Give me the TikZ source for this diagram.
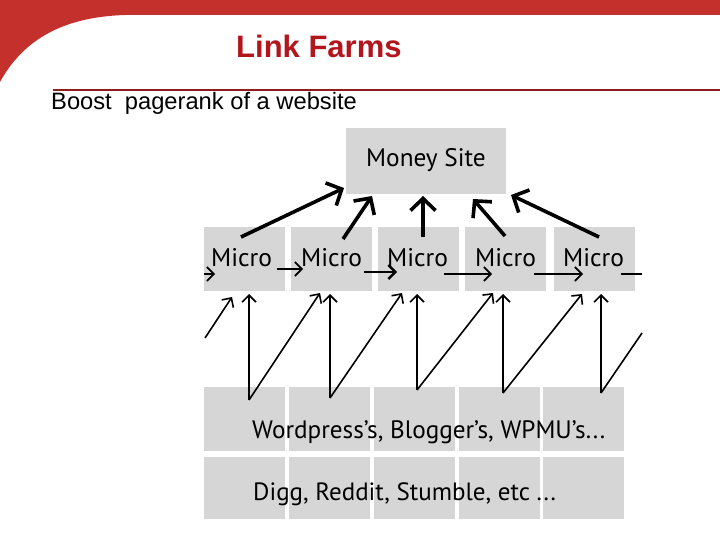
\documentclass[tikz,border=0pt]{standalone}
\usepackage{fontspec}
\setmainfont{Liberation Sans}
\newfontfamily\diagfont{PT Sans}
\usetikzlibrary{arrows.meta}
\definecolor{hdrred}{HTML}{C4312C}
\definecolor{titlered}{HTML}{B3151D}
\definecolor{rulered}{HTML}{8E1E1E}
\definecolor{boxgrey}{HTML}{D6D6D6}
\tikzset{
  gbox/.style={fill=boxgrey, draw=none, inner sep=0pt, anchor=north west},
  lbl/.style={inner sep=0pt, anchor=base west, font=\diagfont\fontsize{25.5}{28}\selectfont},
  bigarrow/.style={line width=3.6pt, -{Straight Barb[length=12pt,width=25pt]}},
  lnk/.style={line width=1.6pt, -{Straight Barb[length=7pt,width=14pt]}},
  plain/.style={line width=1.6pt},
}
\begin{document}
\begin{tikzpicture}[x=1pt,y=-1pt]
\useasboundingbox (0,0) rectangle (720,540);
% header
\fill[hdrred] (0,0) -- (720,0) -- (720,15) -- (125,15)
  .. controls (60,17) and (22,42) .. (0,82) -- cycle;
\draw[rulered, line width=2pt] (53,90) -- (720,90);
\node[inner sep=0pt, anchor=base west, text=titlered, font=\bfseries\fontsize{31}{34}\selectfont] (title) at (236,58) {Link Farms};
\node[inner sep=0pt, anchor=base west, font=\fontsize{23.7}{27}\selectfont] (sub) at (51,110) {Boost\ \ pagerank of a website};

% money site
\node[gbox, minimum width=160pt, minimum height=66pt] (money) at (346,128) {};
\node[lbl, font=\diagfont\fontsize{25.3}{28}\selectfont] (moneyt) at (366,167) {Money Site};

% micro boxes
\node[gbox, minimum width=81pt, minimum height=64pt] (m1) at (204,227) {};
\node[gbox, minimum width=81pt, minimum height=64pt] (m2) at (291,227) {};
\node[gbox, minimum width=81pt, minimum height=64pt] (m3) at (378,227) {};
\node[gbox, minimum width=81pt, minimum height=64pt] (m4) at (465,227) {};
\node[gbox, minimum width=81pt, minimum height=64pt] (m5) at (554,227) {};
\node[lbl] (t1) at (211,266) {Micro};
\node[lbl] (t2) at (301,266) {Micro};
\node[lbl] (t3) at (387,266) {Micro};
\node[lbl] (t4) at (475,266) {Micro};
\node[lbl] (t5) at (563,266) {Micro};

% lower rows
\foreach \i/\x/\w in {1/204/81,2/289/81,3/374/81,4/459/81,5/543/81}{
  \node[gbox, minimum width=\w pt, minimum height=64pt] (w\i) at (\x,387) {};
  \node[gbox, minimum width=\w pt, minimum height=62pt] (d\i) at (\x,457) {};
}
\node[lbl, font=\diagfont\fontsize{25.2}{28}\selectfont] (wt) at (252,438) {Wordpress’s, Blogger’s, WPMU’s...};
\node[lbl, font=\diagfont\fontsize{25}{28}\selectfont] (dt) at (253,500) {Digg, Reddit, Stumble, etc ...};

% thick arrows to money site
\coordinate (a1s) at (241,237); \coordinate (a1e) at (344,188);
\coordinate (a2s) at (343,239); \coordinate (a2e) at (372,196);
\coordinate (a3s) at (423,237); \coordinate (a3e) at (423,196);
\coordinate (a4s) at (505,236); \coordinate (a4e) at (473,199);
\coordinate (a5s) at (599,237); \coordinate (a5e) at (511,195);
\draw[bigarrow] (a1s) -- (a1e);
\draw[bigarrow] (a2s) -- (a2e);
\draw[bigarrow] (a3s) -- (a3e);
\draw[bigarrow] (a4s) -- (a4e);
\draw[bigarrow] (a5s) -- (a5e);

% horizontal arrows between micros
\coordinate (h0s) at (204,274); \coordinate (h0e) at (215,274);
\coordinate (h1s) at (277,269); \coordinate (h1e) at (303,269);
\coordinate (h2s) at (364,272); \coordinate (h2e) at (397,272);
\coordinate (h3s) at (444,274); \coordinate (h3e) at (492,274);
\coordinate (h4s) at (534,274); \coordinate (h4e) at (583,274);
\coordinate (h5s) at (621,274); \coordinate (h5e) at (642,274);
\draw[lnk] (h0s) -- (h0e);
\draw[lnk] (h1s) -- (h1e);
\draw[lnk, line width=2.4pt] (h2s) -- (h2e);
\draw[lnk] (h3s) -- (h3e);
\draw[lnk] (h4s) -- (h4e);
\draw[plain] (h5s) -- (h5e);

% zig-zag arrows from the blog rows
\coordinate (z0s) at (205,338); \coordinate (z0e) at (232,297);
\coordinate (b1) at (249,400); \coordinate (u1) at (249,294);
\coordinate (g1) at (320,293);
\coordinate (b2) at (330,398); \coordinate (u2) at (330,294);
\coordinate (g2) at (402,293);
\coordinate (b3) at (417,390); \coordinate (u3) at (417,294);
\coordinate (g3) at (493,293);
\coordinate (b4) at (503,393); \coordinate (u4) at (503,294);
\coordinate (g4) at (582,294);
\coordinate (b5) at (601,393); \coordinate (u5) at (601,294);
\coordinate (g5) at (642,333);
\draw[lnk] (z0s) -- (z0e);
\draw[lnk] (b1) -- (u1); \draw[lnk] (b1) -- (g1);
\draw[lnk] (b2) -- (u2); \draw[lnk] (b2) -- (g2);
\draw[lnk] (b3) -- (u3); \draw[lnk] (b3) -- (g3);
\draw[lnk] (b4) -- (u4); \draw[lnk] (b4) -- (g4);
\draw[lnk] (b5) -- (u5); \draw[plain] (b5) -- (g5);
\end{tikzpicture}
\end{document}
